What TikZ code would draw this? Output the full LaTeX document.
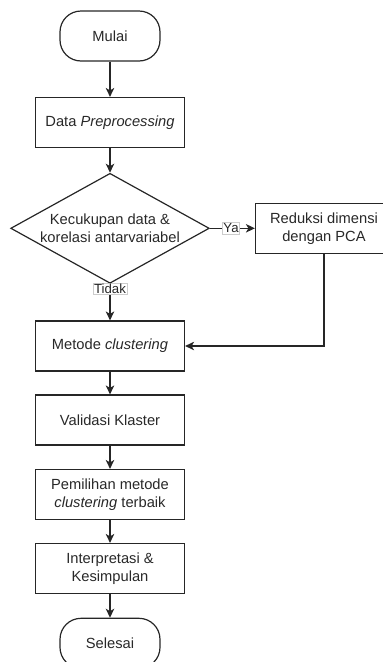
\documentclass[tikz,border=0pt]{standalone}
\usepackage{fontspec}
\setmainfont{Liberation Sans}
\usetikzlibrary{shapes.geometric,arrows.meta}
\definecolor{txt}{RGB}{40,40,40}
\tikzset{
  base/.style={draw=black!85, line width=1.2pt, text=txt, align=center, inner sep=0pt,
    font=\fontsize{14.7}{18}\selectfont},
  procbox/.style={base, rectangle, minimum width=149pt, minimum height=50pt},
  termbox/.style={base, rectangle, rounded corners=21pt, minimum width=100pt, minimum height=50pt},
  arr/.style={draw=black!85, line width=1.2pt, -{Stealth[length=9pt,width=8.5pt,inset=2.5pt]}},
  lbl/.style={fill=white, draw=black!20, line width=0.6pt, text=txt, inner sep=1pt,
    font=\fontsize{13.2}{15}\selectfont}
}
\begin{document}
\begin{tikzpicture}[x=1pt,y=-1pt]
\useasboundingbox (0,0) rectangle (383,662);
\clip (0,0) rectangle (383,662);
\node[termbox] (mulai) at (110,36) {Mulai};
\node[procbox] (prep) at (110,122.5) {Data \textit{Preprocessing}};
\node[base, diamond, aspect=1.8, minimum width=198.6pt, minimum height=110pt] (dec) at (110,228.3) {};
\node[text=txt, align=center, inner sep=0pt, font=\fontsize{14.7}{18}\selectfont] (dectext) at (dec.center) {Kecukupan data \&\\korelasi antarvariabel};
\node[base, rectangle, minimum width=137pt, minimum height=50pt] (red) at (324,228.3) {Reduksi dimensi\\dengan PCA};
\node[procbox] (met) at (110,346) {Metode \textit{clustering}};
\node[procbox] (val) at (110,420) {Validasi Klaster};
\node[procbox] (pem) at (110,494.5) {Pemilihan metode\\\textit{clustering} terbaik};
\node[procbox] (int) at (110,568.5) {Interpretasi \&\\Kesimpulan};
\node[termbox] (sel) at (110,643.3) {Selesai};

\draw[arr] (mulai) -- (prep);
\draw[arr] (prep) -- (dec);
\draw[arr] (dec.east) -- node[lbl, pos=0.47] {Ya} (red.west);
\draw[arr] (dec.south) -- node[lbl, pos=0.13] {Tidak} (met.north);
\draw[arr] (red.south) |- (met.east);
\draw[arr] (met) -- (val);
\draw[arr] (val) -- (pem);
\draw[arr] (pem) -- (int);
\draw[arr] (int) -- (sel);
\end{tikzpicture}
\end{document}
